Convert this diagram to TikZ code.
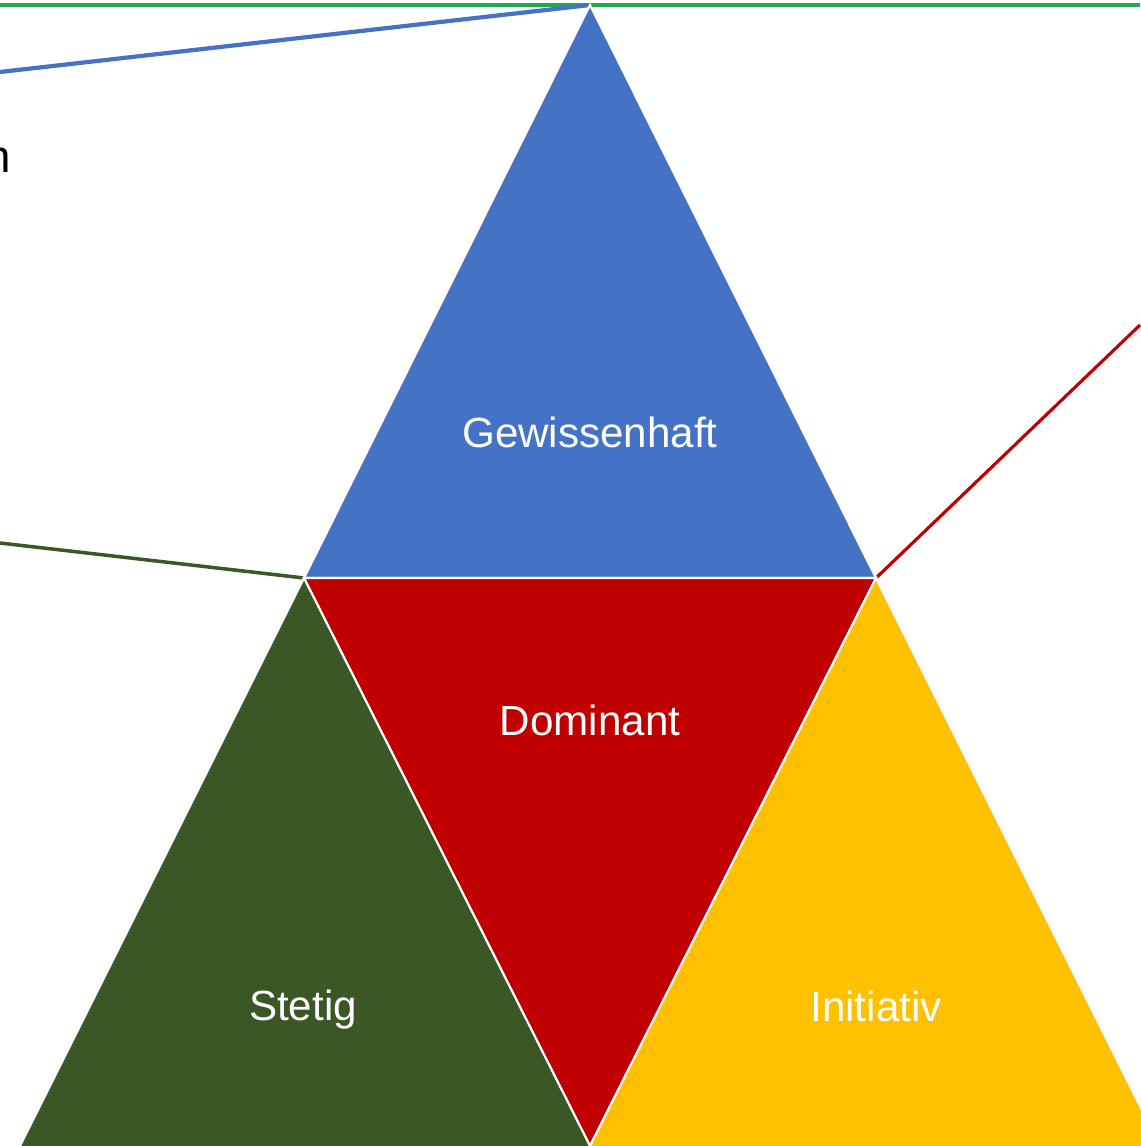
\documentclass[tikz,border=0pt]{standalone}
\usepackage{fontspec}
\setmainfont{Liberation Sans}
\definecolor{gwblue}{HTML}{4472C4}
\definecolor{dored}{HTML}{C00000}
\definecolor{stgreen}{HTML}{3B5726}
\definecolor{inyellow}{HTML}{FFC000}
\definecolor{topgreen}{HTML}{1EAA50}
\tikzstyle{part} = [draw=white, line width=1.2pt, line join=miter]
\tikzstyle{lead} = [line width=2.4pt]
\tikzstyle{label} = [text=white, font=\fontsize{24}{28}\selectfont, inner sep=0pt, anchor=base]

\begin{document}
\begin{tikzpicture}[x=0.02cm,y=-0.02cm]
			\useasboundingbox (0,0) rectangle (1140,1146);
			% corners
			\coordinate (top) at (590,5);
			\coordinate (gl) at (304,578);
			\coordinate (gr) at (876,578);
			\coordinate (bot) at (590,1146);
			\coordinate (sl) at (18,1150);
			\coordinate (ir) at (1162,1150);
			% lines behind
			\draw [lead, topgreen] (0,5) -- (1140,5);
			\draw [lead, gwblue] (0,72) -- (top);
			\draw [lead, stgreen, line width=2pt] (0,543) -- (gl);
			\draw [lead, dored, line width=1.8pt] (gr) -- (1140,325);
			% triangles
			\fill [part, fill=gwblue] (top) -- (gr) -- (gl) -- cycle;
			\fill [part, fill=dored] (gl) -- (gr) -- (bot) -- cycle;
			\fill [part, fill=stgreen] (gl) -- (bot) -- (bot |- sl) -- (sl) -- cycle;
			\fill [part, fill=inyellow] (gr) -- (ir) -- (bot |- ir) -- (bot) -- cycle;
			% texts
			\node [label] (gw) at (590,447) {Gewissenhaft};
			\node [label] (do) at (590,735) {Dominant};
			\node [label] (st) at (303,1020) {Stetig};
			\node [label] (in) at (876,1021) {Initiativ};
			\node [anchor=base east, inner sep=0pt, font=\fontsize{26}{30}\selectfont] (cut) at (11,172) {n};
		\end{tikzpicture}
\end{document}
